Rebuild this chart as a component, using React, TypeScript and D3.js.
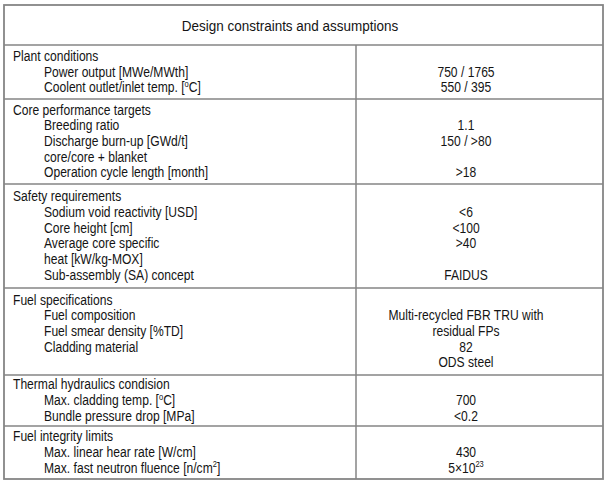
import React from "react";
import * as d3 from "d3";

const tableTitle = "Design constraints and assumptions";

const sectionTitles = [
  "Plant conditions",
  "Core performance targets",
  "Safety requirements",
  "Fuel specifications",
  "Thermal hydraulics condision",
  "Fuel integrity limits",
];

const rowLabels: string[][] = [
  ["Power output [MWe/MWth]", "Coolent outlet/inlet temp. [^{o}C]"],
  ["Breeding ratio", "Discharge burn-up [GWd/t]", "core/core + blanket", "Operation cycle length [month]"],
  ["Sodium void reactivity [USD]", "Core height [cm]", "Average core specific", "heat [kW/kg-MOX]", "Sub-assembly (SA) concept"],
  ["Fuel composition", "Fuel smear density [%TD]", "Cladding material", ""],
  ["Max. cladding temp. [^{o}C]", "Bundle pressure drop [MPa]"],
  ["Max. linear hear rate [W/cm]", "Max. fast neutron fluence [n/cm^{2}]"],
];

const rowValues: string[][] = [
  ["750 / 1765", "550 / 395"],
  ["1.1", "150 / >80", "", ">18"],
  ["<6", "<100", ">40", "", "FAIDUS"],
  ["Multi-recycled FBR TRU with", "residual FPs", "82", "ODS steel"],
  ["700", "<0.2"],
  ["430", "5×10^{23}"],
];

// table layout (rule positions of the section separators, px)
const sectionRules = [45, 99, 184, 288, 375, 426, 479];

const W = 607;
const H = 483;
const FONT = "'Liberation Sans', Arial, Helvetica, sans-serif";
const LINE = "#858585";
const TEXT = "#141414";

function parts(s: string) {
  const out: { t: string; sup: boolean }[] = [];
  const re = /\^\{([^}]*)\}/g;
  let last = 0;
  let m: RegExpExecArray | null;
  while ((m = re.exec(s))) {
    if (m.index > last) out.push({ t: s.slice(last, m.index), sup: false });
    out.push({ t: m[1], sup: true });
    last = m.index + m[0].length;
  }
  if (last < s.length) out.push({ t: s.slice(last), sup: false });
  return out;
}

function RichText({ x, y, s, anchor, size, sx }: { x: number; y: number; s: string; anchor: string; size: number; sx: number }) {
  const ps = parts(s);
  return (
    <text
      transform={`translate(${x},${y}) scale(${sx},1)`}
      textAnchor={anchor}
      fontFamily={FONT}
      fontSize={size}
      fill={TEXT}
    >
      {ps.map((p, i) =>
        p.sup ? (
          <tspan key={i} fontSize={size * 0.62} dy={-size * 0.38}>{p.t}</tspan>
        ) : (
          <tspan key={i} dy={i > 0 && ps[i - 1].sup ? size * 0.38 : 0}>{p.t}</tspan>
        )
      )}
    </text>
  );
}

export default function App() {
  const left = 4, right = 603, top = 5;
  const headBottom = sectionRules[0];
  const bottom = sectionRules[sectionRules.length - 1];
  const divX = 356;
  const titleX = 290;
  const valueX = 466;
  const sectionX = 13;
  const itemX = 44;

  const bodySize = 14.5;
  const sx = 0.835;
  const pitch = 15.7;

  return (
    <svg width={W} height={H} style={{ position: "absolute", left: 0, top: 0, background: "#fff" }}>
      <rect x={0} y={0} width={W} height={H} fill="#fff" />
      <RichText x={titleX} y={31} s={tableTitle} anchor="middle" size={15.5} sx={0.87} />
      {sectionTitles.map((title, si) => {
        const y0 = sectionRules[si];
        const y1 = sectionRules[si + 1];
        const n = 1 + rowLabels[si].length;
        const rowScale = d3
          .scaleLinear()
          .domain([0, n - 1])
          .range([(y0 + y1) / 2 + 4.5 - ((n - 1) * pitch) / 2, (y0 + y1) / 2 + 4.5 + ((n - 1) * pitch) / 2]);
        return (
          <g key={si}>
            {si > 0 && <line x1={left} x2={right} y1={y0} y2={y0} stroke={LINE} strokeWidth={1.5} />}
            <RichText x={sectionX} y={rowScale(0)} s={title} anchor="start" size={bodySize} sx={sx} />
            {rowLabels[si].map((lab, ri) => (
              <g key={ri}>
                {lab && <RichText x={itemX} y={rowScale(ri + 1)} s={lab} anchor="start" size={bodySize} sx={sx} />}
                {rowValues[si][ri] && (
                  <RichText x={valueX} y={rowScale(ri + 1)} s={rowValues[si][ri]} anchor="middle" size={bodySize} sx={sx} />
                )}
              </g>
            ))}
          </g>
        );
      })}
      <line x1={left} x2={right} y1={headBottom} y2={headBottom} stroke={LINE} strokeWidth={1.5} />
      <line x1={divX} x2={divX} y1={headBottom} y2={bottom} stroke={LINE} strokeWidth={1.5} />
      <rect x={left} y={top} width={right - left} height={bottom - top} fill="none" stroke={LINE} strokeWidth={1.8} />
    </svg>
  );
}
